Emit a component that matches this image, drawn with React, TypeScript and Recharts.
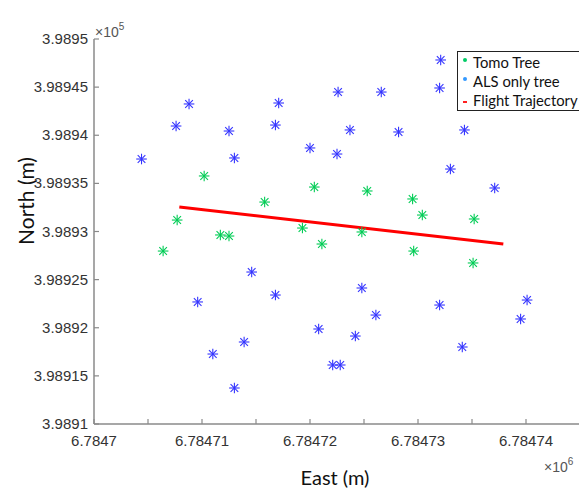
import { ScatterChart, Scatter, XAxis, YAxis } from "recharts";

// East in x10^6 m, North in x10^5 m (as on the axes)
const tomoEast = [
  6.7847102, 6.7847158, 6.7847077, 6.7847117, 6.7847125, 6.7847064, 6.7847204, 6.7847253,
  6.7847295, 6.7847304, 6.7847352, 6.7847193, 6.7847248, 6.7847211, 6.7847296, 6.7847351,
];
const tomoNorth = [
  3.9893577, 3.9893306, 3.9893119, 3.9892964, 3.9892953, 3.9892797, 3.9893462, 3.9893421,
  3.9893338, 3.9893171, 3.989313, 3.9893036, 3.9892995, 3.989287, 3.9892797, 3.9892673,
];

const alsEast = [
  6.7847088, 6.7847076, 6.7847125, 6.7847171, 6.7847168, 6.7847044, 6.784713, 6.7847321,
  6.784732, 6.7847226, 6.7847266, 6.7847237, 6.7847282, 6.7847343, 6.78472, 6.7847225,
  6.784733, 6.7847371, 6.7847146, 6.7847096, 6.7847168, 6.7847139, 6.784711, 6.784713,
  6.7847248, 6.7847261, 6.7847208, 6.7847242, 6.7847221, 6.7847228, 6.784732, 6.7847341,
  6.7847401, 6.7847395,
];
const alsNorth = [
  3.9894325, 3.9894096, 3.9894044, 3.9894335, 3.9894106, 3.9893753, 3.9893764, 3.9894782,
  3.9894491, 3.9894449, 3.9894449, 3.9894055, 3.9894034, 3.9894055, 3.9893868, 3.9893805,
  3.9893649, 3.9893452, 3.9892579, 3.9892268, 3.989234, 3.9891852, 3.9891727, 3.9891374,
  3.9892413, 3.9892132, 3.9891987, 3.9891914, 3.9891613, 3.9891613, 3.9892236, 3.98918,
  3.9892288, 3.9892091,
];

const flightEast = [6.7847079, 6.7847379];
const flightNorth = [3.9893255, 3.989287];

const xTicks = [6.7847, 6.784705, 6.78471, 6.784715, 6.78472, 6.784725, 6.78473, 6.784735, 6.78474, 6.784745];
const xTickLabels = ["6.7847", "", "6.78471", "", "6.78472", "", "6.78473", "", "6.78474", ""];
const yTicks = [3.9891, 3.98915, 3.9892, 3.98925, 3.9893, 3.98935, 3.9894, 3.98945, 3.9895];
const yTickLabels = ["3.9891", "3.98915", "3.9892", "3.98925", "3.9893", "3.98935", "3.9894", "3.98945", "3.9895"];

const zip = (xs: number[], ys: number[]) => xs.map((x, i) => ({ x, y: ys[i] }));
const tomoData = zip(tomoEast, tomoNorth);
const alsData = zip(alsEast, alsNorth);
const flightData = zip(flightEast, flightNorth);

const tickFont = "'Liberation Sans', Arial, sans-serif";
const titleFont = "Lato, 'Open Sans', sans-serif";

function Star({ cx, cy, color }: { cx?: number; cy?: number; color: string }) {
  if (cx == null || cy == null) return null;
  const r = 5.3;
  const d = r * 0.72;
  return (
    <g stroke={color} strokeWidth={1.1}>
      <line x1={cx - r} y1={cy} x2={cx + r} y2={cy} />
      <line x1={cx} y1={cy - r} x2={cx} y2={cy + r} />
      <line x1={cx - d} y1={cy - d} x2={cx + d} y2={cy + d} />
      <line x1={cx - d} y1={cy + d} x2={cx + d} y2={cy - d} />
    </g>
  );
}

function XTick(props: any) {
  const { x, y, index } = props;
  return (
    <g>
      <line x1={x} x2={x} y1={y} y2={y - 5} stroke="#8a8a8a" strokeWidth={1.2} />
      <text x={x} y={y} dy={22} textAnchor="middle" fill="#333" fontSize={15} fontFamily={tickFont}>
        {xTickLabels[index]}
      </text>
    </g>
  );
}

function YTick(props: any) {
  const { x, y, index } = props;
  return (
    <g>
      <line x1={x} x2={x + 5} y1={y} y2={y} stroke="#8a8a8a" strokeWidth={1.2} />
      <text x={x - 6} y={y} dy={5} textAnchor="end" fill="#333" fontSize={15} fontFamily={tickFont}>
        {yTickLabels[index]}
      </text>
    </g>
  );
}

const legendRows = [
  { label: "Tomo Tree", color: "#00cc66", kind: "dot" },
  { label: "ALS only tree", color: "#3399ff", kind: "dot" },
  { label: "Flight Trajectory", color: "#ff2020", kind: "dash" },
];

function LegendBox() {
  return (
    <div
      style={{
        position: "absolute",
        left: 457,
        top: 51,
        border: "1.5px solid #222",
        width: 140,
        height: 60,
        background: "#fff",
        boxSizing: "border-box",
        padding: "1px 0 0 5px",
        fontFamily: titleFont,
        fontSize: 14.8,
        color: "#111",
      }}
    >
      {legendRows.map((r) => (
        <div key={r.label} style={{ height: 19, lineHeight: "19px", display: "flex", alignItems: "center", whiteSpace: "nowrap" }}>
          <span
            style={{
              display: "inline-block",
              width: 4,
              height: r.kind === "dash" ? 2 : 4,
              background: r.color,
              borderRadius: r.kind === "dash" ? 0 : 2,
              marginRight: 6,
              marginTop: r.kind === "dash" ? 2 : -6,
            }}
          />
          {r.label}
        </div>
      ))}
    </div>
  );
}

export default function App() {
  return (
    <div style={{ position: "absolute", left: 0, top: 0, width: 579, height: 489, overflow: "hidden", background: "#fff" }}>
      <ScatterChart width={600} height={489} margin={{ top: 39, left: 93, right: 20, bottom: 64 }}>
        <XAxis
          type="number"
          dataKey="x"
          domain={[6.7847, 6.784745]}
          ticks={xTicks}
          height={1}
          tickSize={0}
          tickMargin={0}
          tickLine={false}
          axisLine={{ stroke: "#8a8a8a", strokeWidth: 1.5 }}
          tick={<XTick />}
          interval={0}
          allowDataOverflow
        />
        <YAxis
          type="number"
          dataKey="y"
          domain={[3.9891, 3.9895]}
          ticks={yTicks}
          width={1}
          tickSize={0}
          tickMargin={0}
          tickLine={false}
          axisLine={{ stroke: "#8a8a8a", strokeWidth: 1.5 }}
          tick={<YTick />}
          interval={0}
          allowDataOverflow
        />
        <Scatter
          name="Flight Trajectory"
          data={flightData}
          line={{ stroke: "#ff0000", strokeWidth: 3 }}
          shape={() => <g />}
          isAnimationActive={false}
        />
        <Scatter
          name="ALS only tree"
          data={alsData}
          shape={(p: any) => <Star cx={p.cx} cy={p.cy} color="#3535ff" />}
          isAnimationActive={false}
        />
        <Scatter
          name="Tomo Tree"
          data={tomoData}
          shape={(p: any) => <Star cx={p.cx} cy={p.cy} color="#00cc55" />}
          isAnimationActive={false}
        />
      </ScatterChart>

      <LegendBox />

      <div style={{ position: "absolute", left: 95, top: 22, fontFamily: tickFont, fontSize: 14, color: "#555", whiteSpace: "nowrap" }}>
        ×10<sup style={{ fontSize: 10, position: "relative", top: -1 }}>5</sup>
      </div>
      <div style={{ position: "absolute", left: 544, top: 457, fontFamily: tickFont, fontSize: 14, color: "#555", whiteSpace: "nowrap" }}>
        ×10<sup style={{ fontSize: 10, position: "relative", top: -1 }}>6</sup>
      </div>
      <div
        style={{
          position: "absolute",
          left: 25,
          top: 201,
          transform: "translate(-50%, -50%) rotate(-90deg)",
          fontFamily: titleFont,
          fontSize: 21,
          color: "#111",
          whiteSpace: "nowrap",
        }}
      >
        North (m)
      </div>
      <div
        style={{
          position: "absolute",
          left: 335,
          top: 477,
          transform: "translate(-50%, -50%)",
          fontFamily: titleFont,
          fontSize: 20,
          color: "#111",
          whiteSpace: "nowrap",
        }}
      >
        East (m)
      </div>
    </div>
  );
}
